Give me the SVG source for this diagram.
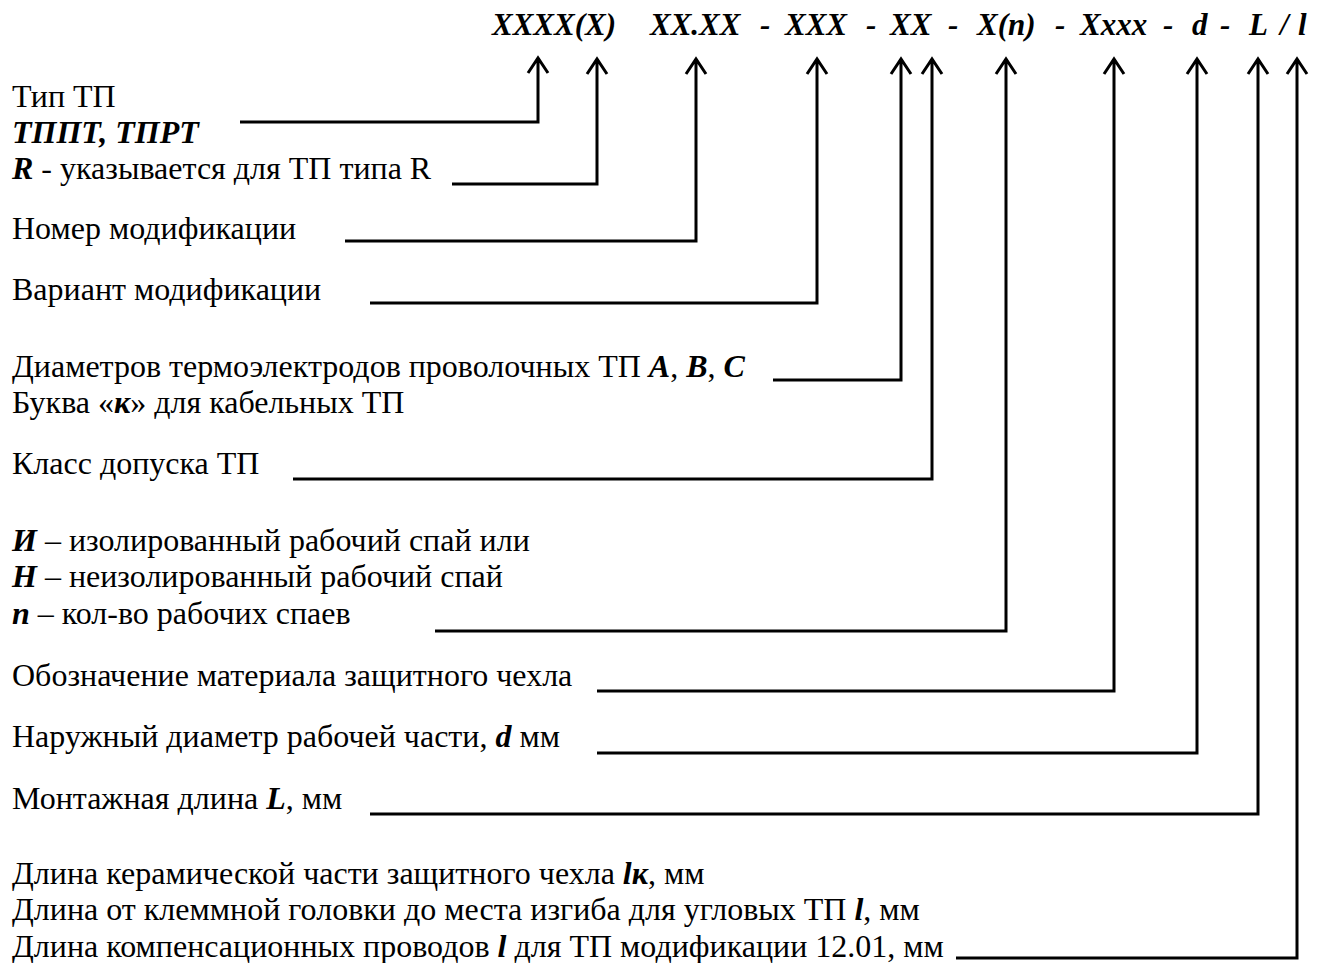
<svg xmlns="http://www.w3.org/2000/svg" width="1322" height="963" viewBox="0 0 1322 963">
<style>
text{font-family:"Liberation Serif","Times New Roman",serif;fill:#000}
.t{font-size:32px}
.bi{font-weight:bold;font-style:italic}
.code{font-size:31px;font-weight:bold;font-style:italic}
.c{fill:none;stroke:#000;stroke-width:3}
</style>
<rect width="1322" height="963" fill="#fff"/>
<g id="code">
<text class="code" y="35"><tspan x="492">XXXX(X)</tspan><tspan x="650">XX.XX</tspan><tspan x="760">-</tspan><tspan x="785">XXX</tspan><tspan x="866">-</tspan><tspan x="890">XX</tspan><tspan x="948">-</tspan><tspan x="977">X(n)</tspan><tspan x="1055">-</tspan><tspan x="1080">Xxxx</tspan><tspan x="1163">-</tspan><tspan x="1192">d</tspan><tspan x="1220">-</tspan><tspan x="1249">L</tspan><tspan x="1280">/</tspan><tspan x="1298">l</tspan></text>
</g>
<g id="n1"><text class="t" x="12" y="107">Тип ТП</text><text class="t bi" x="12" y="143">ТППТ, ТПРТ</text></g>
<g id="n2"><text class="t" x="12" y="179"><tspan class="bi">R</tspan> - указывается для ТП типа R</text></g>
<g id="n3"><text class="t" x="12" y="239">Номер модификации</text></g>
<g id="n4"><text class="t" x="12" y="300">Вариант модификации</text></g>
<g id="n5"><text class="t" x="12" y="377">Диаметров термоэлектродов проволочных ТП <tspan class="bi">A</tspan>, <tspan class="bi">B</tspan>, <tspan class="bi">C</tspan></text><text class="t" x="12" y="413">Буква «<tspan class="bi">к</tspan>» для кабельных ТП</text></g>
<g id="n6"><text class="t" x="12" y="474">Класс допуска ТП</text></g>
<g id="n7"><text class="t" x="12" y="551"><tspan class="bi">И</tspan> – изолированный рабочий спай или</text><text class="t" x="12" y="587"><tspan class="bi">Н</tspan> – неизолированный рабочий спай</text><text class="t" x="12" y="624"><tspan class="bi">n</tspan> – кол-во рабочих спаев</text></g>
<g id="n8"><text class="t" x="12" y="686">Обозначение материала защитного чехла</text></g>
<g id="n9"><text class="t" x="12" y="747">Наружный диаметр рабочей части, <tspan class="bi">d</tspan> мм</text></g>
<g id="n10"><text class="t" x="12" y="809">Монтажная длина <tspan class="bi">L</tspan>, мм</text></g>
<g id="n11"><text class="t" x="12" y="884">Длина керамической части защитного чехла <tspan class="bi">lк</tspan>, мм</text><text class="t" x="12" y="920">Длина от клеммной головки до места изгиба для угловых ТП <tspan class="bi">l</tspan>, мм</text><text class="t" x="12" y="957">Длина компенсационных проводов <tspan class="bi">l</tspan> для ТП модификации 12.01, мм</text></g>
<g id="connectors" class="c">
<path d="M240,122H538V58M528,73L538,58L548,73"/>
<path d="M452,184H597V59M587,74L597,59L607,74"/>
<path d="M345,241H696V59M686,74L696,59L706,74"/>
<path d="M370,303H817V59M807,74L817,59L827,74"/>
<path d="M773,380H901V59M891,74L901,59L911,74"/>
<path d="M293,479H932V59M922,74L932,59L942,74"/>
<path d="M435,631H1006V59M996,74L1006,59L1016,74"/>
<path d="M597,691H1114V59M1104,74L1114,59L1124,74"/>
<path d="M597,753H1197V59M1187,74L1197,59L1207,74"/>
<path d="M370,814H1258V59M1248,74L1258,59L1268,74"/>
<path d="M956,958H1297V59M1287,74L1297,59L1307,74"/>
</g>
</svg>
